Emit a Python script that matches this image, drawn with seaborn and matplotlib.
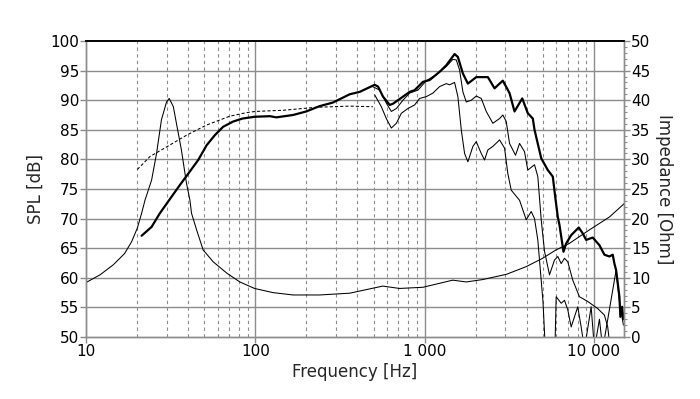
import numpy as np
import pandas as pd
import matplotlib
matplotlib.use("Agg")
import matplotlib.pyplot as plt
import seaborn as sns
from matplotlib.ticker import FixedLocator, FuncFormatter, MultipleLocator, NullFormatter

# ---------------- data ----------------
# On-axis SPL (thick line)
spl0_freq = [21.3, 24.4, 27.3, 31.3, 35.9, 40.2, 46, 51.6, 57.7, 64.5, 74, 84, 99, 122, 133, 167, 200, 240,
             287, 361, 413, 507, 531, 568, 622, 650, 745, 815, 873, 977, 1070, 1226, 1343, 1503, 1572, 1683,
             1801, 2018, 2363, 2588, 2770, 2897, 3173, 3396, 3772, 4068, 4355, 4457, 4882, 5339, 5714, 5904,
             6116, 6260, 6610, 6855, 7337, 8133, 8588, 8995, 9838, 10776, 11530, 12340, 12910, 13210, 13520,
             14140, 14330, 14670, 14930]
spl0_db = [67.1, 68.6, 70.9, 73.3, 75.7, 77.6, 79.9, 82.4, 84.1, 85.5, 86.4, 86.9, 87.2, 87.3, 87.1, 87.5, 88.1,
           89.0, 89.6, 91.0, 91.4, 92.6, 92.3, 90.6, 89.2, 89.4, 90.6, 91.4, 91.7, 93.1, 93.4, 94.8, 95.9, 97.8,
           97.3, 94.5, 92.8, 93.9, 93.9, 92.0, 92.8, 93.3, 91.2, 88.1, 90.3, 87.8, 86.9, 85.0, 80.2, 78.2, 77.1,
           73.7, 70.3, 68.9, 64.4, 65.8, 67.2, 68.5, 67.5, 66.4, 66.8, 65.5, 63.9, 63.6, 63.9, 62.4, 61.3,
           56.8, 53.4, 55.1, 53.0]

# 30 degree off-axis (thin)
spl30_freq = [493, 543, 594, 636, 681, 745, 815, 913, 1023, 1172, 1343, 1469, 1538, 1609, 1683, 1762, 1886,
              2018, 2160, 2312, 2529, 2770, 2897, 3034, 3173, 3443, 3636, 3890, 4068, 4457, 4661, 4882, 5105,
              5464, 5848, 6116, 6406, 6699, 7005, 7498, 8212, 9192, 10530, 11530, 12060, 12600]
spl30_db = [92.3, 91.7, 89.5, 88.1, 88.6, 90.0, 91.2, 91.7, 93.3, 94.3, 95.7, 96.9, 96.8, 95.1, 91.4, 89.7,
            90.0, 90.7, 90.3, 88.1, 86.1, 86.9, 87.5, 86.4, 82.7, 80.7, 82.7, 81.3, 78.2, 79.1, 77.1, 69.8,
            64.5, 60.5, 63.0, 63.6, 62.4, 63.3, 62.7, 59.6, 56.8, 56.0, 54.8, 53.7, 51.7, 47.0]

# 60 degree off-axis (thin)
spl60_freq = [507, 555, 594, 636, 681, 729, 797, 873, 934, 1023, 1119, 1226, 1343, 1404, 1503, 1572, 1646,
              1722, 1801, 1928, 2018, 2160, 2259, 2363, 2529, 2707, 2770, 2965, 3101, 3247, 3636, 3981, 4261,
              4457, 4661, 5000, 5224, 5848, 5984, 6406, 6699, 7005, 7337, 8024, 8404, 8790, 9627, 10067,
              10776, 11270, 13520, 14140, 14930]
spl60_db = [90.9, 88.9, 86.9, 85.3, 86.1, 87.8, 88.6, 89.2, 90.3, 90.6, 91.2, 92.3, 92.8, 92.6, 93.0, 90.6,
            85.0, 81.0, 79.6, 82.2, 83.0, 81.0, 79.9, 81.6, 82.2, 83.0, 83.3, 81.9, 77.6, 74.8, 73.1, 69.8,
            71.2, 70.0, 66.4, 56.0, 45.0, 45.0, 56.8, 55.7, 56.2, 54.6, 51.7, 55.1, 51.7, 48.0, 55.1, 48.0,
            53.0, 48.0, 61.3, 56.0, 52.0]

# Simulated low-frequency SPL (dashed)
sim_freq = [20.1, 23.9, 29.9, 39.3, 51.5, 70.7, 88.7, 100, 146, 229, 361, 495]
sim_db = [78.3, 80.5, 82.1, 84.1, 85.8, 87.3, 87.9, 88.1, 88.3, 88.8, 89.0, 88.9]

# Impedance (thin, right axis)
imp_freq = [10, 12.1, 14.5, 16.9, 18.6, 20.1, 21.3, 22.3, 24.4, 26.1, 27.9, 29.9, 31, 32.8, 34.2, 36.6, 39.2,
            41.1, 42, 45, 49.2, 56.4, 67.8, 81, 99, 127, 167, 240, 361, 566, 711, 977, 1464, 1762, 2200, 3050,
            3990, 4980, 5960, 7150, 9410, 12380, 15050]
imp_ohm = [9.2, 10.5, 12.2, 14.1, 16.1, 18.4, 20.9, 23.1, 26.5, 31.0, 36.7, 39.7, 40.3, 38.9, 36.1, 31.6, 26.0,
           23.1, 20.9, 18.1, 14.7, 12.7, 10.8, 9.3, 8.2, 7.5, 7.1, 7.1, 7.4, 8.6, 8.2, 8.4, 9.6, 9.3, 9.7, 10.6,
           11.9, 13.3, 14.7, 15.8, 18.1, 20.3, 22.5]

spl_ticks = [50, 55, 60, 65, 70, 75, 80, 85, 90, 95, 100]
imp_ticks = [0, 5, 10, 15, 20, 25, 30, 35, 40, 45, 50]
freq_ticks = [10, 100, 1000, 10000]
freq_labels = ["10", "100", "1 000", "10 000"]

# ---------------- plot ----------------
sns.set_theme(style="white")
plt.rcParams["font.family"] = ["DejaVu Sans"]

fig = plt.figure(figsize=(7.0, 3.99), dpi=100)
ax = fig.add_axes([86 / 700, 1 - 337 / 399, (624 - 86) / 700, (337 - 41) / 399])
ax2 = ax.twinx()

grid_c = "#8c8c8c"
ax.set_xscale("log")
ax.set_xlim(10, 15050)
ax.set_ylim(50, 100)
ax2.set_ylim(0, 50)

# grid
minor = [m * d for d in (10, 100, 1000) for m in range(2, 10)]
for f in minor:
    if f < 15050:
        ax.axvline(f, color=grid_c, lw=0.8, ls=(0, (3, 3)), zorder=0.5)
for f in (100, 1000, 10000):
    ax.axvline(f, color=grid_c, lw=1.0, zorder=0.5)
for v in spl_ticks[1:-1]:
    ax.axhline(v, color=grid_c, lw=1.0, zorder=0.5)

lw_thick = 1.6
lw_thin = 0.75
sns.lineplot(x=imp_freq, y=imp_ohm, ax=ax2, color="black", lw=lw_thin, estimator=None, sort=False)
sns.lineplot(x=sim_freq, y=sim_db, ax=ax, color="black", lw=lw_thin, estimator=None, sort=False,
             dashes=False, linestyle=(0, (3, 2)))
sns.lineplot(x=spl60_freq, y=spl60_db, ax=ax, color="black", lw=lw_thin, estimator=None, sort=False)
sns.lineplot(x=spl30_freq, y=spl30_db, ax=ax, color="black", lw=lw_thin, estimator=None, sort=False)
sns.lineplot(x=spl0_freq, y=spl0_db, ax=ax, color="black", lw=lw_thick, estimator=None, sort=False)

# ticks
ax.xaxis.set_major_locator(FixedLocator(freq_ticks))
ax.xaxis.set_major_formatter(FuncFormatter(lambda v, p: freq_labels[freq_ticks.index(int(round(v)))] if int(round(v)) in freq_ticks else ""))
ax.xaxis.set_minor_formatter(NullFormatter())
ax.xaxis.set_minor_locator(FixedLocator([]))
ax.set_yticks(spl_ticks)
ax2.set_yticks(imp_ticks)
ax2.yaxis.set_minor_locator(MultipleLocator(1))

ax.tick_params(axis="x", which="major", direction="out", length=4, width=1, color=grid_c,
               labelsize=11, pad=1, labelcolor="black", bottom=True)
ax.tick_params(axis="y", which="major", direction="out", length=4, width=1, color=grid_c,
               labelsize=11, pad=1, labelcolor="black", left=True)
ax2.tick_params(axis="y", which="major", direction="out", length=4, width=1, color=grid_c,
                labelsize=11, pad=1, labelcolor="black", right=True)
ax2.tick_params(axis="y", which="minor", direction="out", length=2, width=0.8, color=grid_c, right=True)

for a in (ax, ax2):
    for s in ("left", "bottom", "right"):
        a.spines[s].set_color(grid_c)
        a.spines[s].set_linewidth(1.0)
    a.spines["top"].set_color("black")
    a.spines["top"].set_linewidth(1.2)

ax.set_xlabel("Frequency [Hz]", fontsize=12, labelpad=3)
ax.set_ylabel("SPL [dB]", fontsize=12, labelpad=4)
ax2.set_ylabel("Impedance [Ohm]", fontsize=12, rotation=270, labelpad=16)

fig.savefig("out.png", dpi=100, facecolor="white")
